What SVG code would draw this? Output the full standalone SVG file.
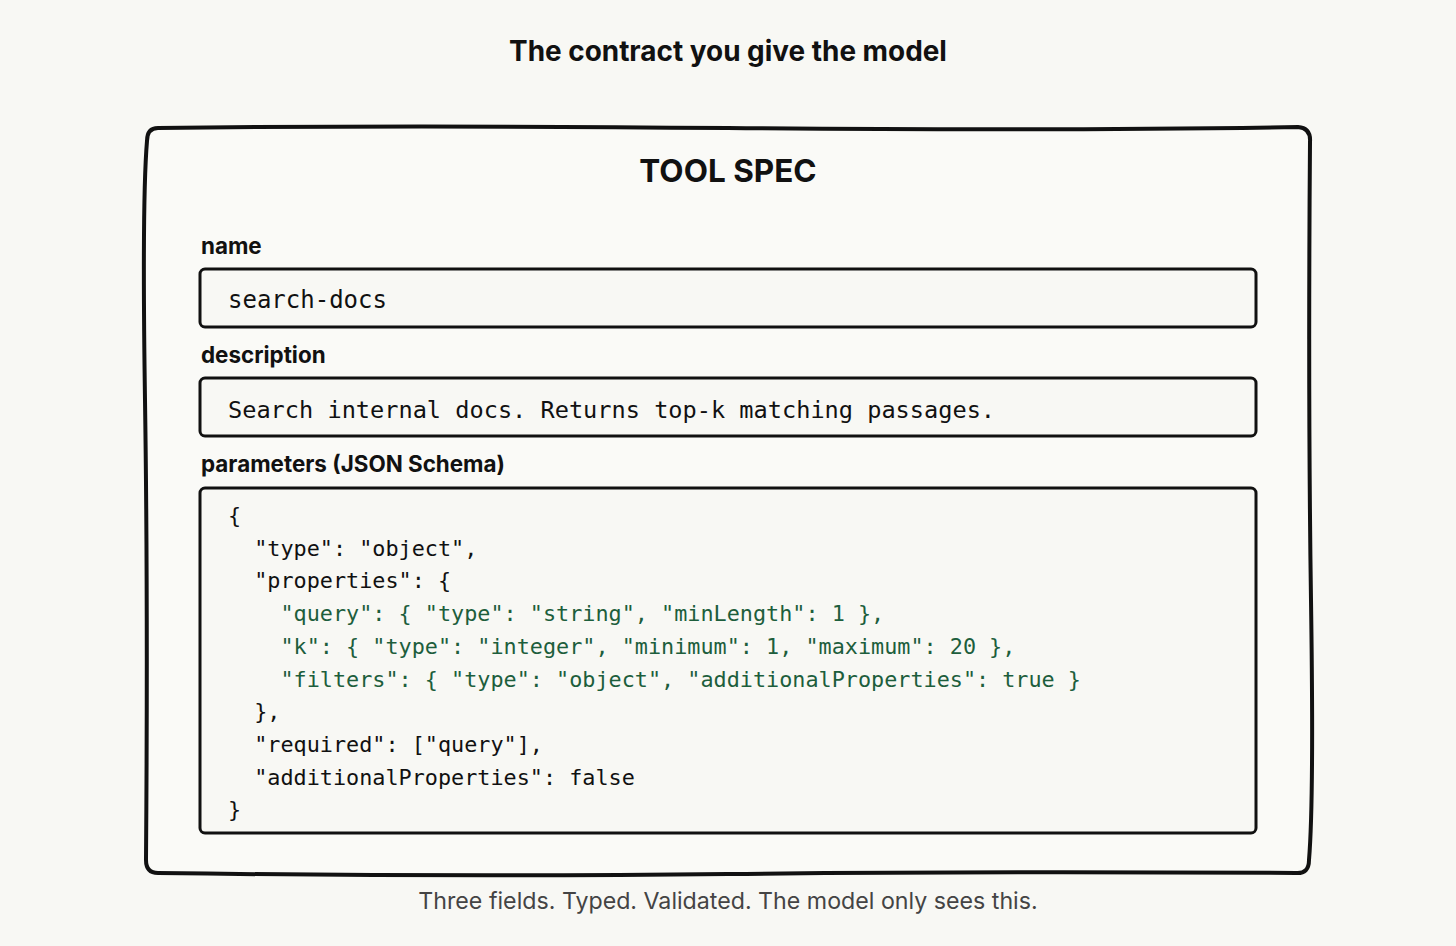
<svg xmlns="http://www.w3.org/2000/svg" width="1456" height="946" viewBox="0 0 1456 946">
<style>
.t{font-family:Inter,"Liberation Sans",sans-serif;fill:#111}
.lbl{font-family:Inter,"Liberation Sans",sans-serif;font-weight:700;font-size:22.4px;fill:#111}
.box{fill:#f8f8f4;stroke:#111;stroke-width:3}
.m{font-family:"DejaVu Sans Mono","Liberation Mono",monospace;fill:#111}
.c{font-family:"DejaVu Sans Mono","Liberation Mono",monospace;font-size:21.8px;fill:#111}
.g{fill:#1d5e3c}
</style>
<rect width="1456" height="946" fill="#f8f8f4"/>
<text class="t" x="728" y="61" text-anchor="middle" font-size="27.9" font-weight="700">The contract you give the model</text>
<g id="toolspec">
<path d="M158 128 Q400 125 728 128 T1298 127 Q1311 128 1310 142 Q1308 400 1311 600 T1309 860 Q1309 874 1296 873 Q1000 871 728 874 T158 873 Q146 873 146 860 Q148 600 145 400 T147 141 Q147 128 158 128 Z" fill="#fafaf7" stroke="#111" stroke-width="4"/>
<text class="t" x="728" y="182" text-anchor="middle" font-size="31.5" font-weight="700">TOOL SPEC</text>
</g>
<g id="name">
<text class="lbl" x="201" y="254">name</text>
<rect class="box" x="200" y="269" width="1056" height="58" rx="5"/>
<text class="m" x="228" y="308" font-size="24">search-docs</text>
</g>
<g id="description">
<text class="lbl" x="201" y="363">description</text>
<rect class="box" x="200" y="378" width="1056" height="58" rx="5"/>
<text class="m" x="228" y="418" font-size="23.6">Search internal docs. Returns top-k matching passages.</text>
</g>
<g id="parameters">
<text class="lbl" x="201" y="472">parameters (JSON Schema)</text>
<rect class="box" x="200" y="488" width="1056" height="345" rx="5"/>
<text class="c" xml:space="preserve"><tspan x="228" y="523">{</tspan><tspan x="228" y="556">  "type": "object",</tspan><tspan x="228" y="588">  "properties": {</tspan><tspan x="228" y="621" class="g">    "query": { "type": "string", "minLength": 1 },</tspan><tspan x="228" y="654" class="g">    "k": { "type": "integer", "minimum": 1, "maximum": 20 },</tspan><tspan x="228" y="687" class="g">    "filters": { "type": "object", "additionalProperties": true }</tspan><tspan x="228" y="719">  },</tspan><tspan x="228" y="752">  "required": ["query"],</tspan><tspan x="228" y="785">  "additionalProperties": false</tspan><tspan x="228" y="817">}</tspan></text>
</g>
<g id="connectors"/>
<text class="t" x="728" y="909" text-anchor="middle" font-size="23.2" font-weight="400" style="fill:#444">Three fields. Typed. Validated. The model only sees this.</text>
</svg>
